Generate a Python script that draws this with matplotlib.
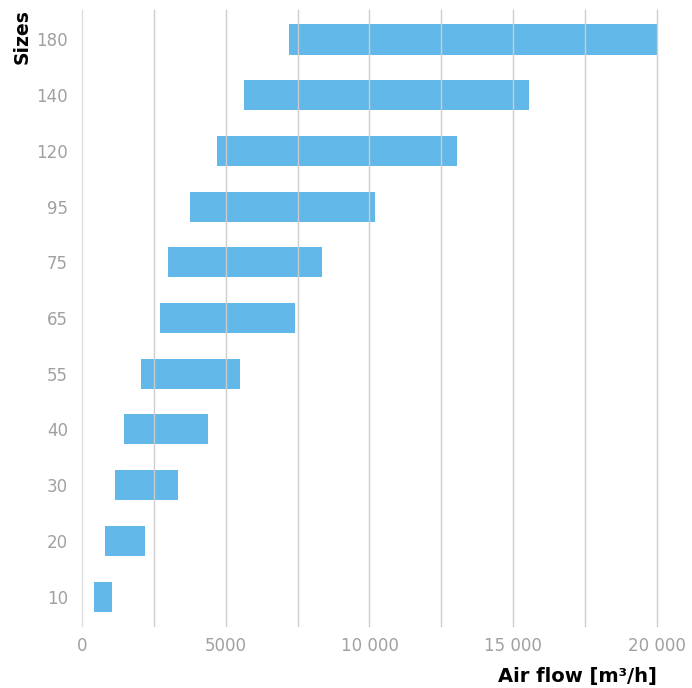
import matplotlib
matplotlib.use("Agg")
import matplotlib.pyplot as plt

# sizes (bottom to top) and air flow range [m3/h]
sizes = ["10", "20", "30", "40", "55", "65", "75", "95", "120", "140", "180"]
flow_min = [400, 800, 1150, 1450, 2050, 2700, 3000, 3750, 4700, 5650, 7200]
flow_max = [1050, 2200, 3350, 4400, 5500, 7400, 8350, 10200, 13050, 15550, 20000]

grid_ticks = [0, 2500, 5000, 7500, 10000, 12500, 15000, 17500, 20000]
tick_labels = ["0", "", "5000", "", "10 000", "", "15 000", "", "20 000"]

plt.rcParams["font.family"] = ["DejaVu Sans"]

fig = plt.figure(figsize=(6.92, 6.88), dpi=100)
ax = fig.add_axes([0.1185, 0.090, 0.8309, 0.8955])

widths = [hi - lo for lo, hi in zip(flow_min, flow_max)]
ax.barh(range(len(sizes)), widths, left=flow_min, height=0.54,
        color="#62b8e8", zorder=1)

# gridlines sit on top of the bars
for x in grid_ticks:
    ax.axvline(x, color="#dddddd" if x == 0 else "#cdcdcd", lw=1.0,
               zorder=2, clip_on=False)

ax.set_xlim(0, 20000)
ax.set_ylim(-0.53, len(sizes) - 1 + 0.53)
ax.set_xticks(grid_ticks)
ax.set_xticklabels(tick_labels)
ax.set_yticks(range(len(sizes)))
ax.set_yticklabels(sizes)
ax.tick_params(length=0, labelsize=12, colors="#a0a0a0")
ax.tick_params(axis="x", pad=8)
ax.tick_params(axis="y", pad=10)
for s in ax.spines.values():
    s.set_visible(False)

fig.text(0.032, 0.987, "Sizes", rotation=90, ha="center", va="top",
         fontsize=13.5, fontweight="bold", color="black")
fig.text(0.9494, 0.003, "Air flow [m³/h]", ha="right", va="bottom",
         fontsize=14, fontweight="bold", color="black")

fig.savefig("out.png", dpi=100)
